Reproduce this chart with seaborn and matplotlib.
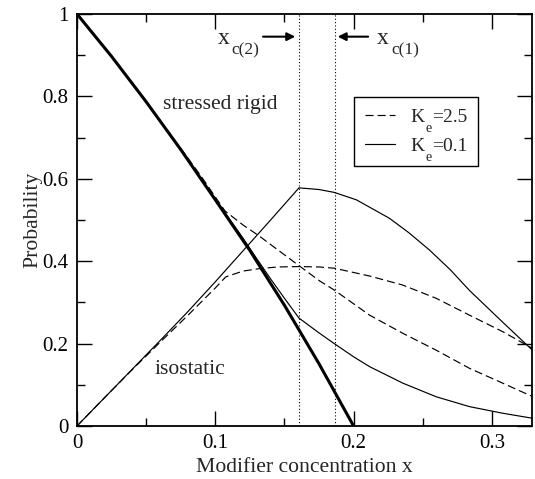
import matplotlib
matplotlib.use("Agg")
import matplotlib.pyplot as plt
from matplotlib.transforms import IdentityTransform
import seaborn as sns
import numpy as np

# ---------------- data ----------------
x_thick = [0.0, 0.025, 0.05, 0.075, 0.1, 0.125, 0.15, 0.175, 0.2]
p_thick = [1.0, 0.897, 0.787, 0.671, 0.549, 0.426, 0.293, 0.151, 0.0]

x_sr_01 = [0.0, 0.025, 0.05, 0.075, 0.1, 0.12, 0.13, 0.14, 0.15, 0.1605,
           0.175, 0.186, 0.2, 0.2116, 0.2356, 0.2597, 0.2838, 0.3078, 0.329]
p_sr_01 = [1.0, 0.897, 0.787, 0.671, 0.551, 0.456, 0.406, 0.357, 0.310, 0.262,
           0.226, 0.200, 0.168, 0.144, 0.104, 0.071, 0.047, 0.031, 0.019]

x_iso_01 = [0.0, 0.02, 0.04, 0.06, 0.08, 0.1, 0.12, 0.14, 0.1605,
            0.175, 0.186, 0.202, 0.226, 0.24, 0.2549, 0.27, 0.2838, 0.3078, 0.329]
p_iso_01 = [0.0, 0.069, 0.138, 0.207, 0.277, 0.350, 0.425, 0.500, 0.578,
            0.574, 0.567, 0.549, 0.504, 0.469, 0.427, 0.379, 0.329, 0.252, 0.185]

x_sr_25 = [0.0, 0.025, 0.05, 0.075, 0.09, 0.1, 0.107, 0.12, 0.131, 0.145,
           0.161, 0.1755, 0.186, 0.2116, 0.2356, 0.2597, 0.2838, 0.3078, 0.329]
p_sr_25 = [1.0, 0.897, 0.787, 0.674, 0.605, 0.556, 0.522, 0.488, 0.463, 0.428,
           0.388, 0.352, 0.330, 0.269, 0.225, 0.184, 0.140, 0.104, 0.072]

x_iso_25 = [0.0, 0.02, 0.04, 0.06, 0.08, 0.1, 0.1076, 0.12, 0.132, 0.145,
            0.161, 0.175, 0.186, 0.2116, 0.2356, 0.2597, 0.2838, 0.3078, 0.329]
p_iso_25 = [0.0, 0.069, 0.137, 0.203, 0.268, 0.335, 0.362, 0.376, 0.382, 0.386,
            0.387, 0.386, 0.383, 0.364, 0.342, 0.310, 0.269, 0.229, 0.189]

x_c2 = 0.1605
x_c1 = 0.1863

legend_symbol = "K"
legend_sub = "e"
legend_values = ["=2.5", "=0.1"]
x_ticks = [0, 0.1, 0.2, 0.3]
x_tick_labels = ["0", "0.1", "0.2", "0.3"]
y_ticks = [0, 0.2, 0.4, 0.6, 0.8, 1.0]
y_tick_labels = ["0", "0.2", "0.4", "0.6", "0.8", "1"]

# ---------------- style ----------------
sns.set_style("ticks")
plt.rcParams["font.family"] = ["Liberation Serif", "DejaVu Serif"]
plt.rcParams["lines.scale_dashes"] = False

FS = 15.6
TICKFS = 15.0
LEGFS = 14.0
fig = plt.figure(figsize=(5.35, 4.79), dpi=100)
ax = fig.add_axes([77 / 535, 1 - 426 / 479, (532 - 77) / 535, (426 - 14) / 479])

thin = 0.85
dash = (0, (5.8, 2.9))

sns.lineplot(x=x_thick, y=p_thick, ax=ax, color="black", linewidth=2.2,
             estimator=None, sort=False)
sns.lineplot(x=x_sr_01, y=p_sr_01, ax=ax, color="black", linewidth=thin,
             estimator=None, sort=False)
sns.lineplot(x=x_iso_01, y=p_iso_01, ax=ax, color="black", linewidth=thin,
             estimator=None, sort=False)
sns.lineplot(x=x_sr_25, y=p_sr_25, ax=ax, color="black", linewidth=thin,
             linestyle=dash, estimator=None, sort=False)
sns.lineplot(x=x_iso_25, y=p_iso_25, ax=ax, color="black", linewidth=thin,
             linestyle=dash, estimator=None, sort=False)

for xc in (x_c2, x_c1):
    ax.axvline(xc, color="black", linewidth=0.8, linestyle=(0, (0.8, 1.6)))

ax.set_xlim(0, 0.329)
ax.set_ylim(0, 1)
ax.set_xticks(x_ticks)
ax.set_xticklabels(x_tick_labels)
ax.set_yticks(y_ticks)
ax.set_yticklabels(y_tick_labels)
ax.set_xticks(np.arange(0.05, 0.33, 0.1), minor=True)
ax.set_yticks(np.arange(0.1, 1.0, 0.2), minor=True)
ax.tick_params(which="both", direction="in", top=True, right=True,
               colors="black", width=1.0, labelsize=TICKFS)
ax.tick_params(which="major", length=11, pad=6)
ax.tick_params(which="minor", length=5.5)
for s in ax.spines.values():
    s.set_linewidth(1.3)
    s.set_color("black")

ax.set_xlabel("Modifier concentration x", fontsize=FS, labelpad=3)
ax.set_ylabel("Probability", fontsize=FS)
ax.yaxis.set_label_coords(-0.076, 0.5)

# annotations
ax.text(0.1033, 0.769, "stressed rigid", fontsize=FS, ha="center", va="baseline")
ax.text(0.0814, 0.126, "isostatic", fontsize=FS, ha="center", va="baseline")

ax.text(0.1018, 0.927, "x", fontsize=17, ha="left", va="baseline")
ax.text(0.1113, 0.903, "c(2)", fontsize=12.5, ha="left", va="baseline")
ax.annotate("", xy=(0.1578, 0.945), xytext=(0.1345, 0.945),
            arrowprops=dict(arrowstyle="-|>", color="black", lw=1.5,
                            mutation_scale=12, shrinkA=0, shrinkB=0))
ax.text(0.2168, 0.927, "x", fontsize=17, ha="left", va="baseline")
ax.text(0.2275, 0.903, "c(1)", fontsize=12.5, ha="left", va="baseline")
ax.annotate("", xy=(0.1885, 0.945), xytext=(0.2105, 0.945),
            arrowprops=dict(arrowstyle="-|>", color="black", lw=1.5,
                            mutation_scale=12, shrinkA=0, shrinkB=0))

# legend: the "K" and subscript "e" are placed in the gap before "=value"
lines = ax.get_lines()
handles = [lines[3], lines[1]]
leg = ax.legend(handles, legend_values, loc="upper right",
                bbox_to_anchor=(0.882, 0.7976), borderaxespad=0,
                fontsize=LEGFS, handlelength=1.55, handletextpad=1.9,
                labelspacing=0.6, borderpad=0.55, fancybox=False,
                frameon=True, edgecolor="black", framealpha=1)
leg.get_frame().set_linewidth(1.0)

fig.canvas.draw()
renderer = fig.canvas.get_renderer()
for t in leg.get_texts():
    bb = t.get_window_extent(renderer)
    _, _, d = renderer.get_text_width_height_descent(
        "lp", t.get_fontproperties(), ismath=False)
    base = bb.y0 + d
    fig.text(bb.x0 - 8.0, base, legend_symbol, fontsize=LEGFS,
             ha="right", va="baseline", transform=IdentityTransform())
    fig.text(bb.x0 - 7.0, base - 10, legend_sub, fontsize=LEGFS * 0.72,
             ha="left", va="baseline", transform=IdentityTransform())

fig.savefig("out.png", dpi=100)
